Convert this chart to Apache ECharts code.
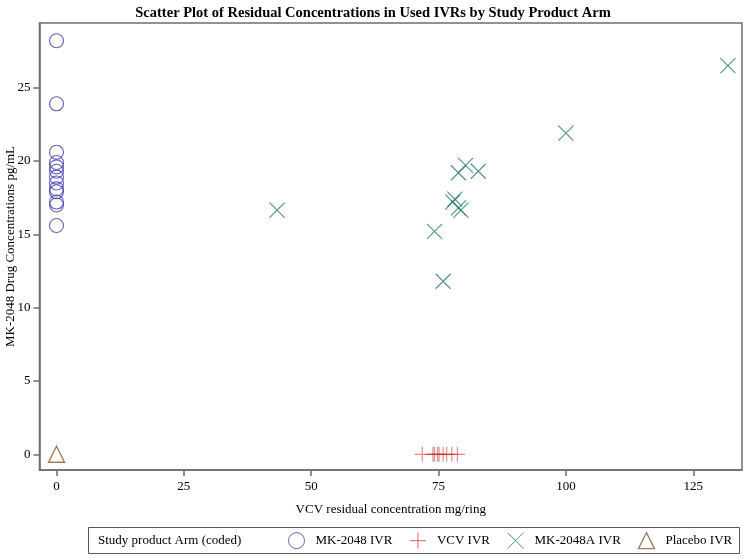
<!DOCTYPE html>
<html><head><meta charset="utf-8">
<script src="https://cdn.jsdelivr.net/npm/echarts@6/dist/echarts.min.js"></script>
<style>html,body{margin:0;padding:0;background:#fff}#c{width:746px;height:560px}</style>
</head><body><div id="c"></div>
<script>
// ---- data ----
const seriesNames = ['MK-2048 IVR', 'VCV IVR', 'MK-2048A IVR', 'Placebo IVR'];
const mk2048X = [0, 0, 0, 0, 0, 0, 0, 0, 0, 0, 0, 0, 0];
const mk2048Y = [28.2, 23.9, 20.6, 19.9, 19.6, 19.3, 18.9, 18.5, 18.1, 17.9, 17.2, 17.0, 15.6];
const vcvX = [71.8, 73.9, 74.2, 74.8, 75.1, 75.9, 76.6, 77.6, 78.7];
const vcvY = [0, 0, 0, 0, 0, 0, 0, 0, 0];
const mk2048aX = [43.3, 74.2, 75.9, 77.8, 78.2, 78.9, 79.4, 78.9, 80.3, 82.8, 100.0, 131.8];
const mk2048aY = [16.65, 15.2, 11.8, 17.2, 17.4, 16.8, 16.65, 19.2, 19.7, 19.3, 21.9, 26.5];
const placeboX = [0];
const placeboY = [0];
const xTicks = [0, 25, 50, 75, 100, 125];
const yTicks = [0, 5, 10, 15, 20, 25];

const FONT = 'Liberation Serif';
const colors = ['#3c3cae', 'rgba(200,40,40,0.65)', '#2a7a70', '#8a5a2e'];
const PLUS = 'path://M0,5L10,5M5,0L5,10';
const CROSS = 'path://M0,0L10,10M10,0L0,10';
const zip = (a, b) => a.map((v, i) => [v, b[i]]);

const chart = echarts.init(document.getElementById('c'), null, {renderer: 'canvas'});
const axisCommon = {
  axisLine: {show: true, onZero: false, lineStyle: {color: '#6e6e6e', width: 1.5}},
  axisTick: {show: true, length: 6, lineStyle: {color: '#6e6e6e', width: 1.5}},
  splitLine: {show: false},
  nameMoveOverlap: false,
  nameTextStyle: {fontFamily: FONT, fontSize: 13, color: '#000'},
};
chart.setOption({
  animation: false,
  backgroundColor: '#fff',
  title: {
    text: 'Scatter Plot of Residual Concentrations in Used IVRs by Study Product Arm',
    left: 'center', top: 1,
    textStyle: {fontFamily: FONT, fontWeight: 'bold', fontSize: 14.5, color: '#000'}
  },
  grid: {left: 39.5, right: 4, top: 23, bottom: 90, show: true, borderColor: '#6e6e6e', borderWidth: 1.5,
         containLabel: false, outerBoundsMode: 'none'},
  xAxis: Object.assign({}, axisCommon, {
    type: 'value', min: -3.34, max: 134.57,
    name: 'VCV residual concentration mg/ring', nameLocation: 'middle', nameGap: 33,
    axisTick: Object.assign({}, axisCommon.axisTick, {customValues: xTicks}),
    axisLabel: {customValues: xTicks, fontFamily: FONT, fontSize: 13, color: '#000', margin: 10}
  }),
  yAxis: Object.assign({}, axisCommon, {
    type: 'value', min: -1.07, max: 29.41,
    name: 'MK-2048 Drug Concentrations pg/mL', nameLocation: 'middle', nameGap: 22,
    axisTick: Object.assign({}, axisCommon.axisTick, {customValues: yTicks}),
    axisLabel: {customValues: yTicks, fontFamily: FONT, fontSize: 13, color: '#000', margin: 9}
  }),
  legend: {
    left: 288, top: 532, padding: 0, itemWidth: 16, itemHeight: 16, itemGap: 17,
    textStyle: {fontFamily: FONT, fontSize: 13, color: '#000', padding: [0, 0, 0, 6]},
    data: [
      {name: seriesNames[0], icon: 'circle', itemStyle: {color: 'rgba(0,0,0,0)', borderColor: colors[0], borderWidth: 1}},
      {name: seriesNames[1], icon: PLUS, itemStyle: {color: 'rgba(0,0,0,0)', borderColor: '#d04040', borderWidth: 1}},
      {name: seriesNames[2], icon: CROSS, itemStyle: {color: 'rgba(0,0,0,0)', borderColor: colors[2], borderWidth: 1}},
      {name: seriesNames[3], icon: 'triangle', itemStyle: {color: 'rgba(0,0,0,0)', borderColor: colors[3], borderWidth: 1.3}}
    ]
  },
  graphic: [
    {type: 'rect', shape: {x: 88.5, y: 527.5, width: 651, height: 26}, style: {fill: 'none', stroke: '#555', lineWidth: 1}},
    {type: 'text', x: 98, y: 540.5, style: {text: 'Study product Arm (coded)', fontFamily: FONT, fontSize: 13, fill: '#000', verticalAlign: 'middle'}}
  ],
  series: [
    {name: seriesNames[0], type: 'scatter', symbol: 'circle', symbolSize: 14, data: zip(mk2048X, mk2048Y),
     itemStyle: {color: 'rgba(0,0,0,0)', borderColor: colors[0], borderWidth: 1.1}},
    {name: seriesNames[1], type: 'scatter', symbol: PLUS, symbolSize: 15, data: zip(vcvX, vcvY),
     itemStyle: {color: 'rgba(0,0,0,0)', borderColor: colors[1], borderWidth: 1.2}},
    {name: seriesNames[2], type: 'scatter', symbol: CROSS, symbolSize: 15, data: zip(mk2048aX, mk2048aY),
     itemStyle: {color: 'rgba(0,0,0,0)', borderColor: colors[2], borderWidth: 1.2}},
    {name: seriesNames[3], type: 'scatter', symbol: 'triangle', symbolSize: 16, data: zip(placeboX, placeboY),
     itemStyle: {color: 'rgba(0,0,0,0)', borderColor: colors[3], borderWidth: 1.4}}
  ]
});
</script></body></html>
